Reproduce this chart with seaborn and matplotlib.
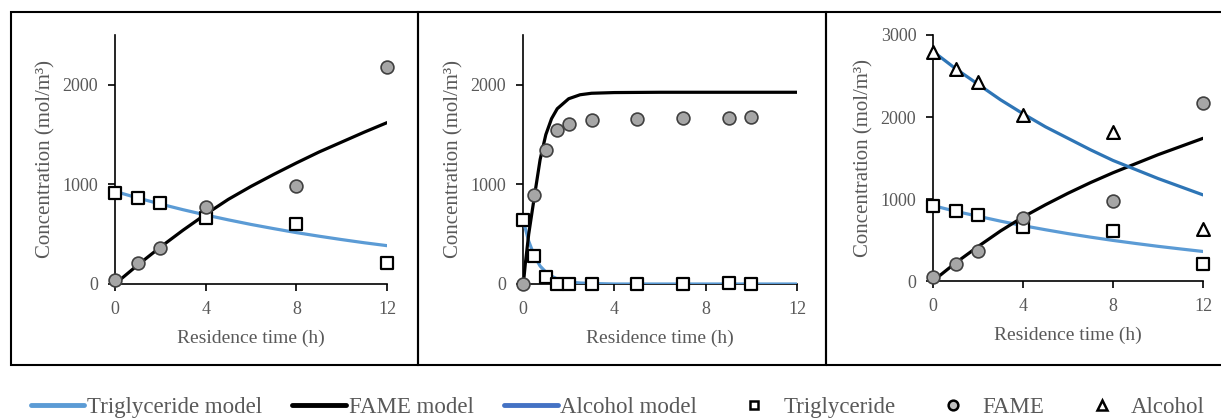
import pandas as pd
import seaborn as sns
import matplotlib.pyplot as plt
from matplotlib.patches import Rectangle
from matplotlib.lines import Line2D

# measured points, panel 1
t_exp1 = [0, 1, 2, 4, 8, 12]
tg_exp1 = [915, 862, 812, 665, 603, 210]
fame_exp1 = [40, 207, 365, 777, 988, 2175]

t_mod1 = [0, 1, 2, 3, 4, 5, 6, 7, 8, 9, 10, 11, 12]
tg_mod1 = [930, 864, 803, 746, 693, 644, 598, 556, 516, 480, 446, 414, 385]
fame_mod1 = [0, 190, 370, 540, 700, 850, 980, 1100, 1215, 1325, 1425, 1525, 1620]

# panel 2
t_exp2 = [0, 0.5, 1, 1.5, 2, 3, 5, 7, 9, 10]
tg_exp2 = [645, 281, 73, 0, 0, 0, 0, 0, 10, 0]
fame_exp2 = [0, 891, 1347, 1544, 1608, 1648, 1658, 1668, 1665, 1675]

t_mod2 = [0, 0.05, 0.1, 0.25, 0.5, 0.75, 1, 1.25, 1.5, 2, 2.5, 3, 4, 6, 8, 10, 12]
tg_mod2 = [650, 600, 560, 430, 280, 180, 120, 80, 50, 20, 10, 5, 0, 0, 0, 0, 0]
fame_mod2 = [0, 80, 200, 500, 880, 1250, 1500, 1660, 1760, 1860, 1900, 1915, 1922, 1925, 1925, 1925, 1925]

# panel 3
t_exp3 = [0, 1, 2, 4, 8, 12]
tg_exp3 = [915, 857, 805, 655, 610, 207]
fame_exp3 = [53, 207, 370, 772, 980, 2175]
alc_exp3 = [2790, 2590, 2430, 2030, 1820, 630]

t_mod3 = [0, 1, 2, 3, 4, 5, 6, 7, 8, 9, 10, 11, 12]
tg_mod3 = [920, 850, 790, 730, 675, 625, 578, 535, 495, 458, 423, 391, 360]
fame_mod3 = [0, 220, 420, 610, 780, 930, 1070, 1200, 1320, 1430, 1540, 1640, 1740]
alc_mod3 = [2800, 2590, 2400, 2210, 2040, 1880, 1740, 1600, 1470, 1360, 1250, 1150, 1050]

c_tg = '#5B9BD5'
c_fame = 'black'
c_alc = '#2E75B6'
grey = '#595959'

sns.set_theme(style='white')
plt.rcParams['font.family'] = ['Liberation Serif', 'DejaVu Serif']

fig = plt.figure(figsize=(12.21, 4.2), dpi=100)
W, H = 1221, 420


def add_ax(left, right, bottom, top):
    return fig.add_axes([left / W, (H - bottom) / H, (right - left) / W, (bottom - top) / H])


axes = [add_ax(115, 387, 284, 35), add_ax(523, 797, 284, 35), add_ax(933, 1203, 281, 35)]

sq = dict(marker='s', s=80, facecolor='white', edgecolor='black', linewidth=1.6, clip_on=False, zorder=5)
ci = dict(marker='o', s=85, facecolor='#A6A6A6', edgecolor='#404040', linewidth=1.2, clip_on=False, zorder=5)
tr = dict(marker='^', s=85, facecolor='white', edgecolor='black', linewidth=1.6, clip_on=False, zorder=5)

panels = [
    (t_mod1, tg_mod1, fame_mod1, None, t_exp1, tg_exp1, fame_exp1, None),
    (t_mod2, tg_mod2, fame_mod2, None, t_exp2, tg_exp2, fame_exp2, None),
    (t_mod3, tg_mod3, fame_mod3, alc_mod3, t_exp3, tg_exp3, fame_exp3, alc_exp3),
]

for ax, (tm, tgm, fm, am, te, tge, fe, ae) in zip(axes, panels):
    sns.lineplot(x=tm, y=tgm, ax=ax, color=c_tg, linewidth=2.3, zorder=3)
    sns.lineplot(x=tm, y=fm, ax=ax, color=c_fame, linewidth=2.3, zorder=3)
    if am is not None:
        sns.lineplot(x=tm, y=am, ax=ax, color=c_alc, linewidth=2.3, zorder=3)
    sns.scatterplot(x=te, y=tge, ax=ax, **sq)
    sns.scatterplot(x=te, y=fe, ax=ax, **ci)
    if ae is not None:
        sns.scatterplot(x=te, y=ae, ax=ax, **tr)

    ax.set_xlim(0, 12)
    ax.set_xticks([0, 4, 8, 12])
    ax.set_xlabel('Residence time (h)', fontsize=14, color=grey, labelpad=9)
    ax.set_ylabel('Concentration (mol/m³)', fontsize=15, color=grey, labelpad=5)
    for s in ['top', 'right']:
        ax.spines[s].set_visible(False)
    for s in ['left', 'bottom']:
        ax.spines[s].set_color('black')
        ax.spines[s].set_linewidth(1.2)
    ax.tick_params(axis='both', direction='out', length=5, width=1.2, color='black',
                   labelsize=13, labelcolor=grey, left=True, bottom=True, pad=7)
    ax.patch.set_alpha(0)

for ax in axes[:2]:
    ax.set_ylim(0, 2500)
    ax.set_yticks([0, 1000, 2000])
axes[2].set_ylim(0, 3000)
axes[2].set_yticks([0, 1000, 2000, 3000])

# panel frames
for x0, x1 in [(11, 418), (418, 826), (826, 1226)]:
    fig.add_artist(Rectangle((x0 / W, (H - 365) / H), (x1 - x0) / W, (365 - 12) / H,
                             transform=fig.transFigure, fill=False, edgecolor='black',
                             linewidth=1.5, clip_on=False))

handles = [
    Line2D([], [], color=c_tg, linewidth=3.5),
    Line2D([], [], color=c_fame, linewidth=3.5),
    Line2D([], [], color='#4472C4', linewidth=3.5),
    Line2D([], [], linestyle='none', marker='s', markersize=6, markerfacecolor='white',
           markeredgecolor='black', markeredgewidth=1.8),
    Line2D([], [], linestyle='none', marker='o', markersize=7, markerfacecolor='#BFBFBF',
           markeredgecolor='black', markeredgewidth=1.8),
    Line2D([], [], linestyle='none', marker='^', markersize=7, markerfacecolor='white',
           markeredgecolor='black', markeredgewidth=1.8),
]
labels = ['Triglyceride model', 'FAME model', 'Alcohol model', 'Triglyceride', 'FAME', 'Alcohol']
leg = fig.legend(handles, labels, loc='center', bbox_to_anchor=(0.506, 0.029), ncol=6,
                 frameon=False, fontsize=16.5, handlelength=2.35, handletextpad=0.12,
                 columnspacing=1.31, borderpad=0)
for txt in leg.get_texts():
    txt.set_color(grey)

fig.savefig('out.png', dpi=100)
